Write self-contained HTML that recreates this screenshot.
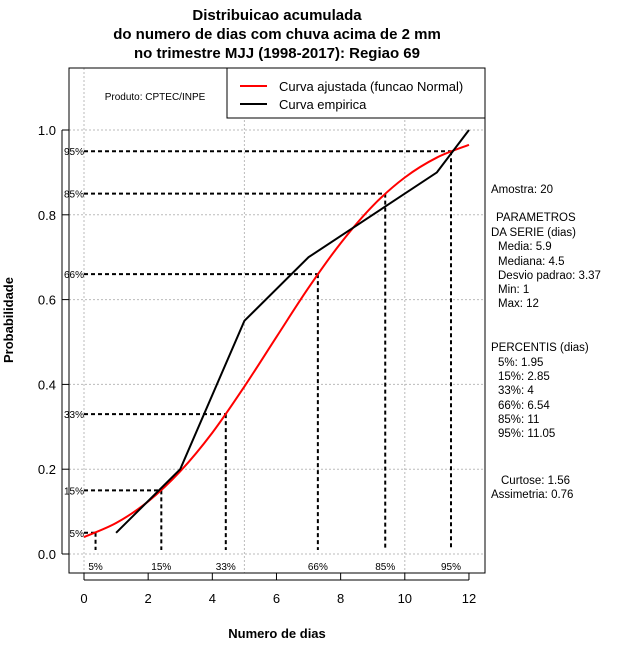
<!DOCTYPE html>
<html><head><meta charset="utf-8"><style>
body{margin:0;background:#fff}
svg{display:block;font-family:"Liberation Sans",sans-serif}
</style></head><body>
<svg id="c" width="640" height="660" xmlns="http://www.w3.org/2000/svg">
<rect width="640" height="660" fill="#fff"/>
<g font-weight="bold" font-size="15" text-anchor="middle">
<text x="277" y="20">Distribuicao acumulada</text>
<text x="277" y="39">do numero de dias com chuva acima de 2 mm</text>
<text x="277" y="58">no trimestre MJJ (1998-2017): Regiao 69</text>
</g>
<g id="grid"></g>
<g id="axes"></g>
<g id="pct"></g>
<g id="series"></g>
<rect x="69" y="68" width="416" height="505" fill="none" stroke="#000"/>
<text x="155" y="100" font-size="10" text-anchor="middle">Produto: CPTEC/INPE</text>
<g>
<rect x="227" y="68" width="258" height="50" fill="#fff" stroke="#000"/>
<line x1="240" y1="86" x2="267" y2="86" stroke="#f00" stroke-width="2"/>
<text x="279" y="91" font-size="13">Curva ajustada (funcao Normal)</text>
<line x1="240" y1="104" x2="267" y2="104" stroke="#000" stroke-width="2"/>
<text x="279" y="109" font-size="13">Curva empirica</text>
</g>
<text x="277" y="638" font-size="13" font-weight="bold" text-anchor="middle">Numero de dias</text>
<text transform="translate(13,320) rotate(-90)" font-size="13" font-weight="bold" text-anchor="middle">Probabilidade</text>
<g font-size="11.5">
<text x="491" y="193">Amostra: 20</text>
<text x="496" y="221">PARAMETROS</text>
<text x="491" y="236">DA SERIE (dias)</text>
<text x="498" y="250">Media: 5.9</text>
<text x="498" y="265">Mediana: 4.5</text>
<text x="498" y="279">Desvio padrao: 3.37</text>
<text x="498" y="293">Min: 1</text>
<text x="498" y="307">Max: 12</text>
<text x="491" y="351">PERCENTIS (dias)</text>
<text x="498" y="366">5%: 1.95</text>
<text x="498" y="380">15%: 2.85</text>
<text x="498" y="394">33%: 4</text>
<text x="498" y="409">66%: 6.54</text>
<text x="498" y="423">85%: 11</text>
<text x="498" y="437">95%: 11.05</text>
<text x="501" y="484">Curtose: 1.56</text>
<text x="491" y="498">Assimetria: 0.76</text>
</g>
</svg>
<script>
const xTicks=[0,2,4,6,8,10,12];
const yTicks=[0.0,0.2,0.4,0.6,0.8,1.0];
const yTickLabels=["0.0","0.2","0.4","0.6","0.8","1.0"];
const xGrid=[0,5,10];
const empX=[1,3,5,7,11,12];
const empY=[0.05,0.2,0.55,0.7,0.9,1.0];
const fitX=[0,1,2,3,4,5,6,7,8,9,10,11,12];
const fitY=[0.040,0.073,0.124,0.195,0.286,0.395,0.512,0.628,0.733,0.821,0.888,0.935,0.965];
const pctLevels=[0.05,0.15,0.33,0.66,0.85,0.95];
const pctX=[0.36,2.41,4.42,7.29,9.39,11.44];
const pctLabels=["5%","15%","33%","66%","85%","95%"];
const NS="http://www.w3.org/2000/svg";
const X=v=>84+v*32.08, Y=v=>554-v*424;
function mk(p,t,a){const e=document.createElementNS(NS,t);for(const k in a)e.setAttribute(k,a[k]);document.getElementById(p).appendChild(e);return e;}
xGrid.forEach(v=>{const l=mk('grid','line',{x1:X(v),x2:X(v),y1:68,y2:573,stroke:'#bbb','stroke-dasharray':'2,2'});

});
yTicks.forEach(v=>{const l=mk('grid','line',{x1:69,x2:485,y1:Y(v),y2:Y(v),stroke:'#bbb','stroke-dasharray':'2,2'});

});
xTicks.forEach(v=>{mk('axes','line',{x1:X(v),x2:X(v),y1:573,y2:580,stroke:'#000'});
const t=mk('axes','text',{x:X(v),y:603,'font-size':13,'text-anchor':'middle'});t.textContent=v;

});
mk('axes','line',{x1:X(0),x2:X(12),y1:580,y2:580,stroke:'#000'});
yTicks.forEach((v,i)=>{mk('axes','line',{x1:62,x2:69,y1:Y(v),y2:Y(v),stroke:'#000'});
const t=mk('axes','text',{x:56,y:Y(v)+5,'font-size':13,'text-anchor':'end'});t.textContent=yTickLabels[i];

});
mk('axes','line',{x1:62,x2:62,y1:Y(0),y2:Y(1),stroke:'#000'});
pctLevels.forEach((p,i)=>{const x=X(pctX[i]),y=Y(p);
const h=mk('pct','line',{x1:84,x2:x,y1:y,y2:y,stroke:'#000','stroke-width':2,'stroke-dasharray':'4,3'});


const v=mk('pct','line',{x1:x,x2:x,y1:y,y2:550,stroke:'#000','stroke-width':2,'stroke-dasharray':'4,3'});


const a=mk('pct','text',{x:84,y:y+4,'font-size':10,'text-anchor':'end'});a.textContent=pctLabels[i];


const b=mk('pct','text',{x:x,y:570,'font-size':10,'text-anchor':'middle'});b.textContent=pctLabels[i];

});
function path(xs,ys,smooth){const P=xs.map((x,i)=>[X(x),Y(ys[i])]);
if(!smooth)return 'M'+P.map(p=>p.join(',')).join('L');
let d='M'+P[0].join(',');for(let i=0;i<P.length-1;i++){const p0=P[Math.max(0,i-1)],p1=P[i],p2=P[i+1],p3=P[Math.min(P.length-1,i+2)];
d+=`C${p1[0]+(p2[0]-p0[0])/6},${p1[1]+(p2[1]-p0[1])/6} ${p2[0]-(p3[0]-p1[0])/6},${p2[1]-(p3[1]-p1[1])/6} ${p2[0]},${p2[1]}`;}return d;}
const f=mk('series','path',{d:path(fitX,fitY,true),fill:'none',stroke:'#f00','stroke-width':2});


const e=mk('series','path',{d:path(empX,empY,false),fill:'none',stroke:'#000','stroke-width':2});


</script>
</body></html>
